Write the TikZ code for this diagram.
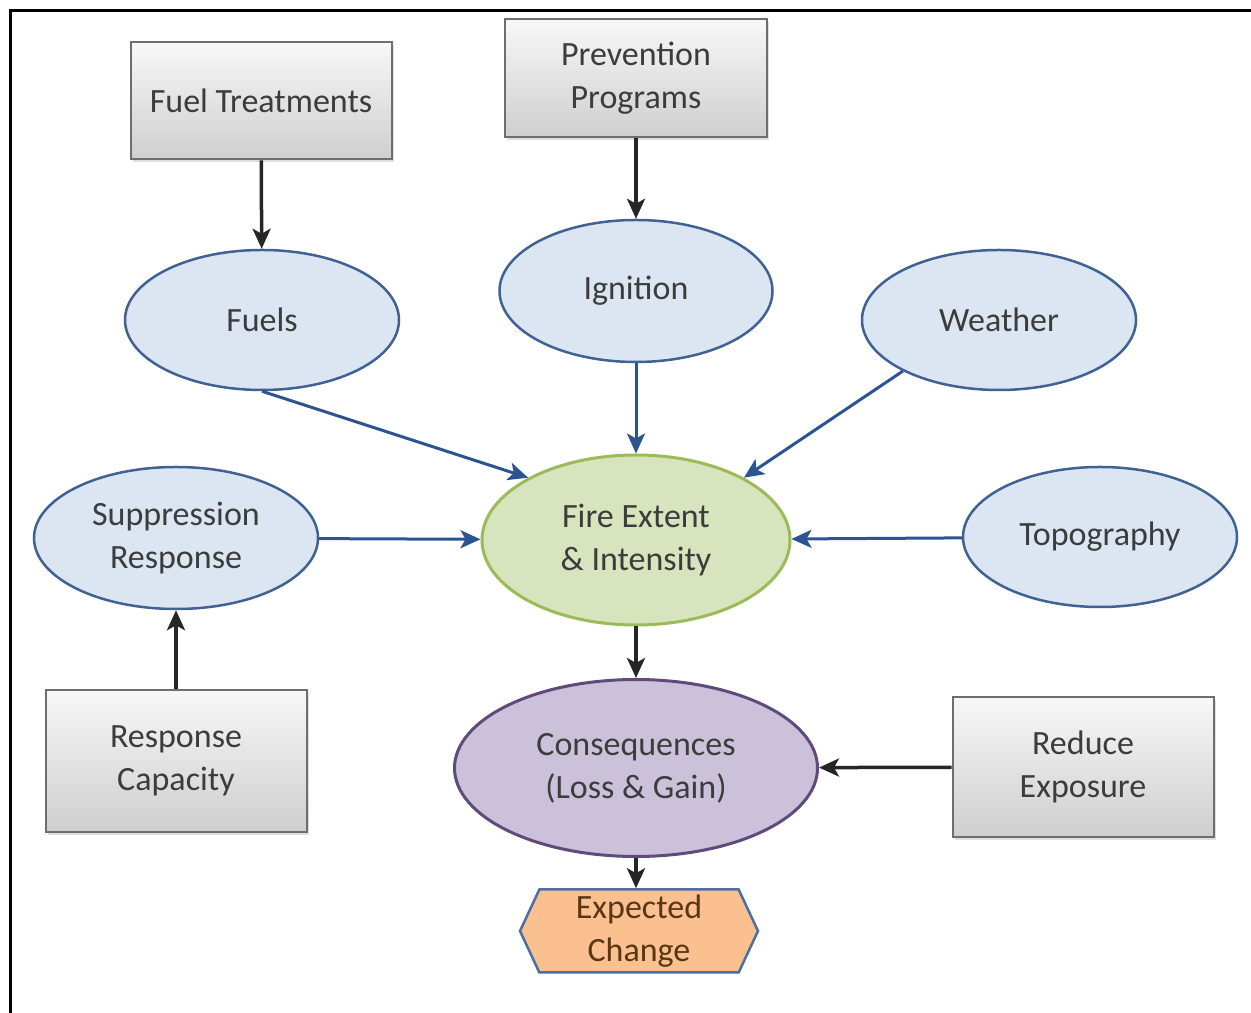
\documentclass[tikz,border=0pt]{standalone}
\usepackage{fontspec}
\setmainfont{Carlito}
\usepackage{tikz}
\usetikzlibrary{arrows.meta,shapes,shadows}
\definecolor{txtgray}{HTML}{3C3C3C}
\definecolor{boxedge}{HTML}{6E6E6E}
\definecolor{ovfill}{HTML}{DCE6F2}
\definecolor{ovedge}{HTML}{3F6293}
\definecolor{firefill}{HTML}{D7E4BD}
\definecolor{fireedge}{HTML}{9BBB59}
\definecolor{consfill}{HTML}{CCC1DA}
\definecolor{consedge}{HTML}{5F4A7B}
\definecolor{hexfill}{HTML}{FAC090}
\definecolor{hexedge}{HTML}{4A6FA5}
\definecolor{hextxt}{HTML}{5A3614}
\definecolor{bluearr}{HTML}{2C5491}

\begin{document}
\begin{tikzpicture}[>={Stealth[length=20bp,width=18bp,inset=5bp]}]
      \tikzstyle{every node}=[font=\fontsize{34bp}{43bp}\selectfont, text=txtgray, align=center, inner sep=0pt]
      \tikzstyle{lever}=[draw=boxedge, line width=2bp, top color=gray!6, bottom color=gray!38, drop shadow={opacity=0.25, shadow xshift=2bp, shadow yshift=-3bp}]
      \tikzstyle{factor}=[ellipse, draw=ovedge, line width=2.5bp, fill=ovfill]
      \tikzstyle{blk}=[->, line width=3.5bp, black!85]
      \tikzstyle{blu}=[->, line width=3bp, bluearr]
      %%
  \useasboundingbox (0bp,0bp) rectangle (1251bp,1013bp);
  \draw [line width=3bp] (10bp,0bp) -- (10bp,1002bp) -- (1251bp,1002bp);
%
  \node (fuel_trt) at (261bp,912bp) [lever, minimum width=261bp, minimum height=117bp] {Fuel Treatments};
  \node (prev_prog) at (636bp,935bp) [lever, minimum width=262bp, minimum height=118bp] {Prevention\\Programs};
  \node (fuels) at (262bp,693bp) [factor, minimum width=274bp, minimum height=140bp] {Fuels};
  \node (ignition) at (636bp,722bp) [factor, minimum width=273bp, minimum height=142bp] {Ignition};
  \node (weather) at (999bp,693bp) [factor, minimum width=274bp, minimum height=140bp] {Weather};
  \node (suppr) at (176bp,475bp) [factor, minimum width=284bp, minimum height=142bp] {Suppression\\Response};
  \node (fire) at (636bp,473bp) [ellipse, draw=fireedge, line width=3bp, fill=firefill, minimum width=308bp, minimum height=170bp] {Fire Extent\\\& Intensity};
  \node (topo) at (1100bp,476bp) [factor, minimum width=274bp, minimum height=140bp] {Topography};
  \node (resp_cap) at (176bp,252bp) [lever, minimum width=261bp, minimum height=142bp] {Response\\Capacity};
  \node (conseq) at (636bp,245bp) [ellipse, draw=consedge, line width=3bp, fill=consfill, minimum width=363bp, minimum height=177bp] {Consequences\\(Loss \& Gain)};
  \node (reduce) at (1083bp,246bp) [lever, minimum width=261bp, minimum height=140bp] {Reduce\\Exposure};
  \node (exp_chg) at (639bp,82bp) [signal, signal to=west and east, signal pointer angle=130, draw=hexedge, line width=2.5bp, fill=hexfill, text=hextxt, minimum width=238bp, minimum height=83bp] {Expected\\Change};
%
  \draw [blk] (fuel_trt) -- (fuels);
  \draw [blk] (prev_prog) -- (ignition);
  \draw [blu] (fuels.south) -- (fire.150);
  \draw [blu] (ignition) -- (fire);
  \draw [blu] (weather.208) -- (fire.30);
  \draw [blu] (suppr) -- (fire);
  \draw [blu] (topo) -- (fire);
  \draw [blk] (resp_cap) -- (suppr);
  \draw [blk] (fire) -- (conseq);
  \draw [blk] (reduce) -- (conseq);
  \draw [blk] (conseq.south) -- (conseq.south |- exp_chg.north);
%
    \end{tikzpicture}
\end{document}
